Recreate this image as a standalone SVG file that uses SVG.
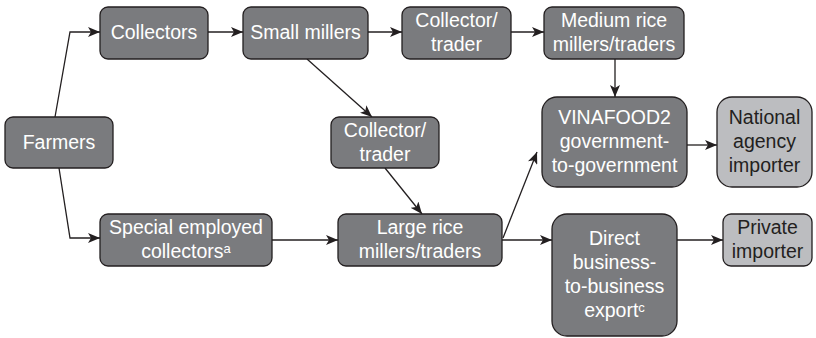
<svg xmlns="http://www.w3.org/2000/svg" width="816" height="338" viewBox="0 0 816 338">
  <style>
    .dk { fill: #7a7b7e; stroke: #231f20; stroke-width: 1.3; }
    .lt { fill: #bcbdc0; stroke: #231f20; stroke-width: 1.3; }
    .tw { fill: #ffffff; font-family: "Liberation Sans", Arial, sans-serif; font-size: 19.5px; text-anchor: middle; }
    .tb { fill: #231f20; font-family: "Liberation Sans", Arial, sans-serif; font-size: 19.5px; text-anchor: middle; }
    .sup { font-size: 13px; }
    .edge { fill: none; stroke: #231f20; stroke-width: 1.3; marker-end: url(#arrow); }
  </style>
  <defs>
    <marker id="arrow" viewBox="0 0 12 10" refX="12" refY="5" markerWidth="12" markerHeight="10" markerUnits="userSpaceOnUse" orient="auto">
      <path d="M0,0 L12,5 L0,10 L3,5 Z" fill="#231f20"/>
    </marker>
  </defs>
  <rect width="816" height="338" fill="#ffffff"/>

  <g id="connectors">
    <polyline class="edge" points="55,117 70,32 100,32"/>
    <polyline class="edge" points="59,168 70,238 100,238"/>
    <line class="edge" x1="208" y1="32" x2="243" y2="32"/>
    <line class="edge" x1="368" y1="32" x2="402" y2="32"/>
    <line class="edge" x1="511" y1="32" x2="544" y2="32"/>
    <line class="edge" x1="615" y1="59" x2="615" y2="97"/>
    <line class="edge" x1="307" y1="59" x2="372" y2="117"/>
    <line class="edge" x1="385" y1="168" x2="422" y2="214"/>
    <line class="edge" x1="272" y1="240" x2="338" y2="240"/>
    <line class="edge" x1="503" y1="238" x2="537" y2="152"/>
    <line class="edge" x1="502" y1="240" x2="552" y2="240"/>
    <line class="edge" x1="687" y1="145" x2="717" y2="145"/>
    <line class="edge" x1="677" y1="240" x2="723" y2="240"/>
  </g>

  <g id="farmers">
    <rect class="dk" x="5" y="117" width="108" height="51" rx="8"/>
    <text class="tw" x="59" y="149">Farmers</text>
  </g>
  <g id="collectors">
    <rect class="dk" x="100" y="7" width="108" height="52" rx="8"/>
    <text class="tw" x="154" y="39">Collectors</text>
  </g>
  <g id="small-millers">
    <rect class="dk" x="243" y="7" width="125" height="52" rx="8"/>
    <text class="tw" x="305.5" y="39">Small millers</text>
  </g>
  <g id="collector-trader-top">
    <rect class="dk" x="402" y="7" width="109" height="52" rx="8"/>
    <text class="tw" x="456.5" y="27">Collector/</text>
    <text class="tw" x="456.5" y="51">trader</text>
  </g>
  <g id="medium-millers">
    <rect class="dk" x="544" y="7" width="140" height="52" rx="8"/>
    <text class="tw" x="614" y="27">Medium rice</text>
    <text class="tw" x="614" y="51">millers/traders</text>
  </g>
  <g id="collector-trader-mid">
    <rect class="dk" x="331" y="117" width="108" height="51" rx="8"/>
    <text class="tw" x="385" y="137">Collector/</text>
    <text class="tw" x="385" y="161">trader</text>
  </g>
  <g id="vinafood2">
    <rect class="dk" x="542" y="97" width="145" height="90" rx="15"/>
    <text class="tw" x="614.5" y="124">VINAFOOD2</text>
    <text class="tw" x="614.5" y="148">government-</text>
    <text class="tw" x="614.5" y="172">to-government</text>
  </g>
  <g id="national-importer">
    <rect class="lt" x="717" y="97" width="95" height="90" rx="15"/>
    <text class="tb" x="764.5" y="124">National</text>
    <text class="tb" x="764.5" y="148">agency</text>
    <text class="tb" x="764.5" y="172">importer</text>
  </g>
  <g id="special-collectors">
    <rect class="dk" x="100" y="214" width="172" height="52" rx="8"/>
    <text class="tw" x="186" y="234">Special employed</text>
    <text class="tw" x="186" y="258">collectors<tspan class="sup" dy="-5">a</tspan></text>
  </g>
  <g id="large-millers">
    <rect class="dk" x="338" y="214" width="164" height="52" rx="8"/>
    <text class="tw" x="420" y="234">Large rice</text>
    <text class="tw" x="420" y="258">millers/traders</text>
  </g>
  <g id="direct-export">
    <rect class="dk" x="552" y="214" width="125" height="122" rx="15"/>
    <text class="tw" x="614.5" y="245">Direct</text>
    <text class="tw" x="614.5" y="269">business-</text>
    <text class="tw" x="614.5" y="293">to-business</text>
    <text class="tw" x="614.5" y="317">export<tspan class="sup" dy="-5">c</tspan></text>
  </g>
  <g id="private-importer">
    <rect class="lt" x="723" y="214" width="89" height="52" rx="8"/>
    <text class="tb" x="767.5" y="234">Private</text>
    <text class="tb" x="767.5" y="258">importer</text>
  </g>
</svg>
